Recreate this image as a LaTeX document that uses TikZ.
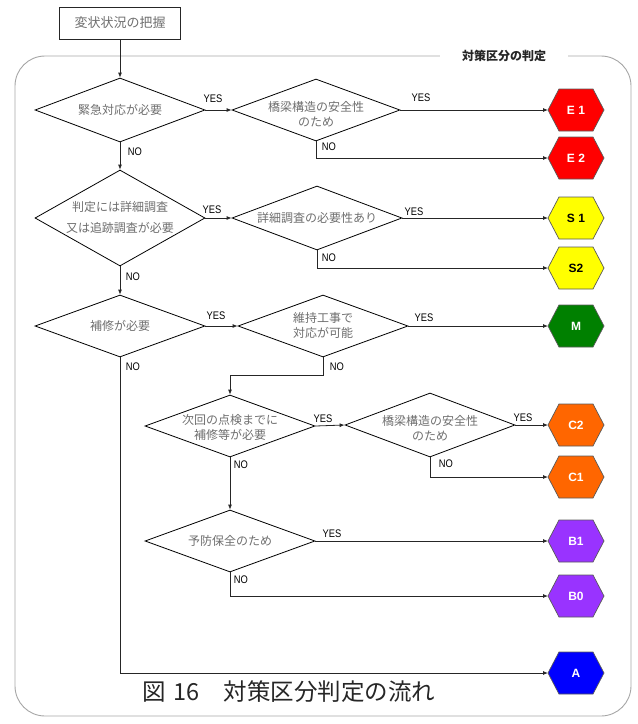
\documentclass[tikz,border=0pt]{standalone}
\usepackage{fontspec}
\setmainfont{Noto Sans CJK JP}
\newfontfamily\labfont[FakeStretch=0.85]{Liberation Sans}
\newfontfamily\hexfont{Liberation Sans}
\usetikzlibrary{shapes.geometric,arrows.meta}
\definecolor{framec}{HTML}{A6A6A6}
\definecolor{txtgray}{HTML}{6E6E6E}
\definecolor{hexborder}{HTML}{5A5A5A}
\definecolor{hexE}{HTML}{FF0000}
\definecolor{hexS}{HTML}{FFFF00}
\definecolor{hexM}{HTML}{008000}
\definecolor{hexC}{HTML}{FF6600}
\definecolor{hexB}{HTML}{9933FF}
\definecolor{hexA}{HTML}{0000FF}
\tikzset{
  dia/.style={diamond, draw=black, line width=0.8pt, inner sep=0pt},
  dtext/.style={align=center, text=txtgray, inner sep=0pt, font=\fontsize{12}{15}\selectfont},
  hexbox/.style={rectangle, minimum width=56pt, minimum height=42pt, inner sep=0pt, outer sep=0pt, font=\hexfont\bfseries\fontsize{12}{12}\selectfont},
  lbl/.style={inner sep=0pt, font=\labfont\fontsize{11}{11}\selectfont},
  conn/.style={draw=black!85, line width=0.8pt},
  arr/.style={conn, -{Latex[length=5pt,width=4pt]}}
}
\newcommand\hexnode[5]{%
  \filldraw[fill=#3,draw=hexborder,line width=0.7pt,shift={(#2)}] (-28,0) -- (-17,-21) -- (17,-21) -- (28,0) -- (17,21) -- (-17,21) -- cycle;
  \node[hexbox,text=#4] (#1) at (#2) {#5};
}
\newcommand\dianode[4]{%
  \node[dia,minimum width=#3,minimum height=#4] (#1) at (#2) {};
}
\begin{document}
\begin{tikzpicture}[x=1pt,y=-1pt]
\useasboundingbox (0,0) rectangle (638,724);
% frame
\draw[framec, line width=0.9pt, rounded corners=30pt] (15,56) rectangle (631,716);
\node[fill=white, inner xsep=22pt, inner ysep=3pt, text=black!85, font=\bfseries\fontsize{12}{12}\selectfont] (title) at (504,56) {対策区分の判定};
% start box
\node[draw=black!85, line width=0.8pt, minimum width=121pt, minimum height=32pt, text=txtgray, font=\fontsize{13}{13}\selectfont] (box) at (120,23) {変状状況の把握};
% diamonds
\dianode{d1}{120,110}{170pt}{64pt}
\node[dtext] (d1t) at (120,110) {緊急対応が必要};
\dianode{d2}{316,110}{168pt}{62pt}
\node[dtext] (d2t) at (316,114) {橋梁構造の安全性\\のため};
\dianode{d3}{120,218}{170pt}{96pt}
\node[dtext, font=\fontsize{12}{21}\selectfont] (d3t) at (120,217) {判定には詳細調査\\又は追跡調査が必要};
\dianode{d4}{317,218}{170pt}{64pt}
\node[dtext] (d4t) at (317,218) {詳細調査の必要性あり};
\dianode{d5}{120,326}{170pt}{62pt}
\node[dtext] (d5t) at (120,326) {補修が必要};
\dianode{d6}{323,326}{170pt}{62pt}
\node[dtext] (d6t) at (323,325) {維持工事で\\対応が可能};
\dianode{d7}{230,426}{170pt}{62pt}
\node[dtext] (d7t) at (230,427) {次回の点検までに\\補修等が必要};
\dianode{d8}{430,425}{170pt}{64pt}
\node[dtext] (d8t) at (430,428) {橋梁構造の安全性\\のため};
\dianode{d9}{230,541}{170pt}{62pt}
\node[dtext] (d9t) at (230,541) {予防保全のため};
% hexagons
\hexnode{e1}{576,110}{hexE}{white}{E 1}
\hexnode{e2}{576,158}{hexE}{white}{E 2}
\hexnode{s1}{576,218}{hexS}{black}{S 1}
\hexnode{s2}{576,268}{hexS}{black}{S2}
\hexnode{m}{576,326}{hexM}{white}{M}
\hexnode{c2}{576,425}{hexC}{white}{C2}
\hexnode{c1}{576,477}{hexC}{white}{C1}
\hexnode{b1}{576,541}{hexB}{white}{B1}
\hexnode{b0}{576,596}{hexB}{white}{B0}
\hexnode{a}{576,673}{hexA}{white}{A}
% connectors
\draw[arr] (box.south) -- (d1.north);
\draw[arr] (d1.east) -- (d2.west);
\draw[arr] (d2.east) -- (e1.west);
\draw[arr] (d2.south) |- (e2.west);
\draw[arr] (d1.south) -- (d3.north);
\draw[arr] (d3.east) -- (d4.west);
\draw[arr] (d4.east) -- (s1.west);
\draw[arr] (d4.south) |- (s2.west);
\draw[arr] (d3.south) -- (d5.north);
\draw[arr] (d5.east) -- (d6.west);
\draw[arr] (d6.east) -- (m.west);
\draw[arr] (d6.south) -- ++(0,18) -| (d7.north);
\draw[arr] (d5.south) |- (a.west);
\draw[arr] (d7.east) -- (d8.west);
\draw[arr] (d8.east) -- (c2.west);
\draw[arr] (d8.south) |- (c1.west);
\draw[arr] (d7.south) -- (d9.north);
\draw[arr] (d9.east) -- (b1.west);
\draw[arr] (d9.south) |- (b0.west);
% labels
\node[lbl] (y1) at (213,99) {YES};
\node[lbl] (y2) at (421,98) {YES};
\node[lbl] (y3) at (212,210) {YES};
\node[lbl] (y4) at (414,212) {YES};
\node[lbl] (y5) at (216,316) {YES};
\node[lbl] (y6) at (424,318) {YES};
\node[lbl] (y7) at (323,419) {YES};
\node[lbl] (y8) at (523,418) {YES};
\node[lbl] (y9) at (332,534) {YES};
\node[lbl] (n1) at (135,152) {NO};
\node[lbl] (n2) at (329,147) {NO};
\node[lbl] (n3) at (133,277) {NO};
\node[lbl] (n4) at (329,258) {NO};
\node[lbl] (n5) at (133,367) {NO};
\node[lbl] (n6) at (337,367) {NO};
\node[lbl] (n7) at (241,465) {NO};
\node[lbl] (n8) at (446,464) {NO};
\node[lbl] (n9) at (241,580) {NO};
% caption
\node[anchor=west, inner sep=0pt, text=black!85, font=\fontsize{23.5}{23.5}\selectfont] (cap) at (142,692) {図\hspace{0.35em}16　対策区分判定の流れ};
\end{tikzpicture}
\end{document}
